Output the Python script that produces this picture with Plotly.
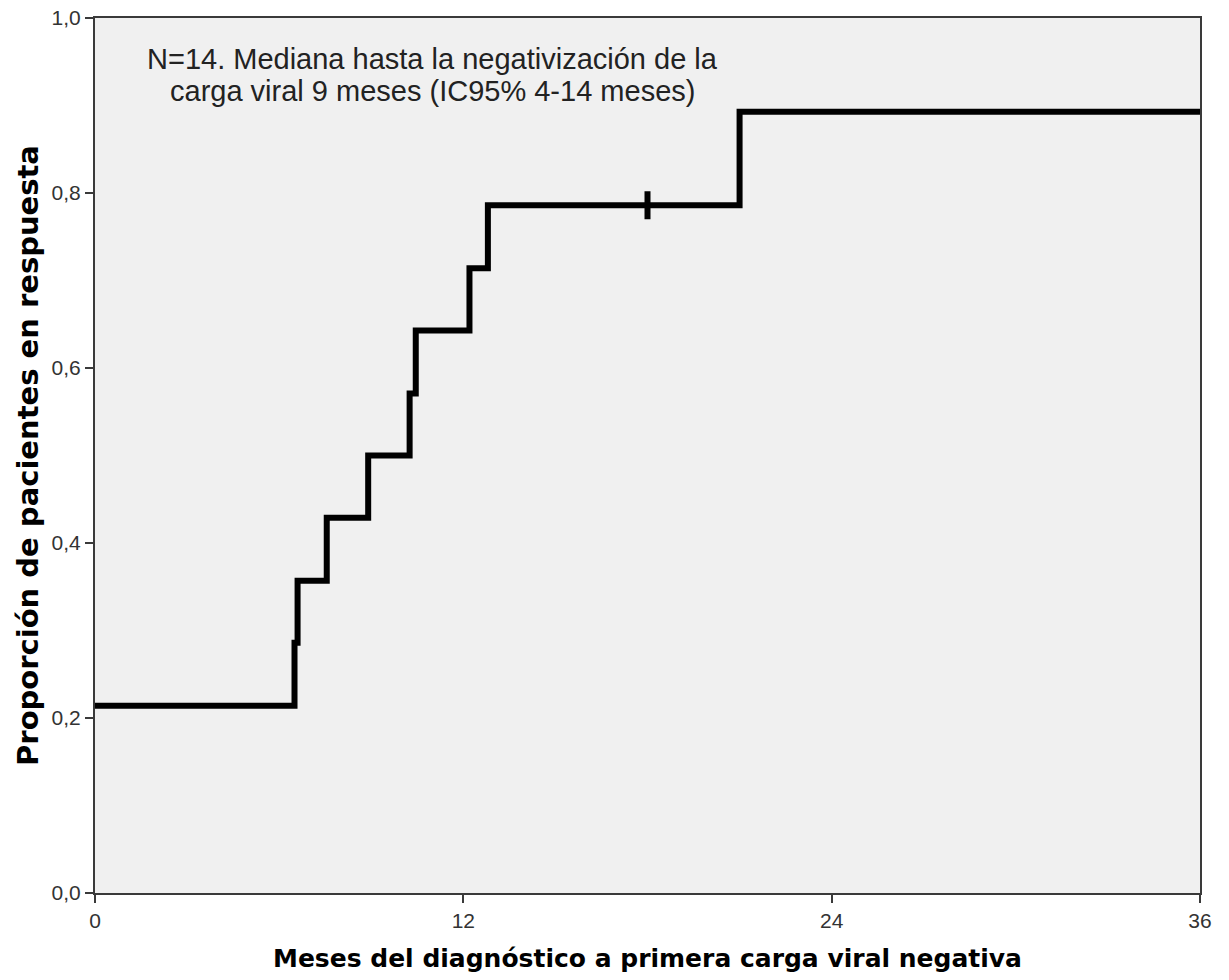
import plotly.graph_objects as go

# Kaplan-Meier cumulative response curve (step function)
months = [0, 6.5, 6.6, 7.55, 8.9, 10.25, 10.45, 12.2, 12.8, 21.0, 36]
proportion = [0.214, 0.286, 0.357, 0.429, 0.500, 0.571, 0.643, 0.714, 0.786, 0.893, 0.893]

censor_months = [18.0]
censor_prop = [0.786]

x_ticks = [0, 12, 24, 36]
y_ticks = [0.0, 0.2, 0.4, 0.6, 0.8, 1.0]

note_lines = ["N=14. Mediana hasta la negativización de la",
              "carga viral 9 meses (IC95% 4-14 meses)"]
note_y = [0.953, 0.916]

fig = go.Figure()
fig.add_trace(go.Scatter(
    x=months, y=proportion, mode="lines", line_shape="hv",
    line=dict(color="black", width=6), showlegend=False, hoverinfo="skip"))
fig.add_trace(go.Scatter(
    x=censor_months, y=censor_prop, mode="markers",
    marker=dict(symbol="line-ns", size=20, line=dict(color="black", width=6)),
    showlegend=False))

axis_common = dict(
    showgrid=False, zeroline=False, showline=True, linecolor="#3a3a3a",
    linewidth=2, mirror=True, ticks="outside", ticklen=8, tickwidth=2,
    tickcolor="#3a3a3a", automargin=False,
    tickfont=dict(family="Liberation Sans, Arial", size=21, color="#333"))

fig.update_layout(
    width=1229, height=980,
    margin=dict(l=95, r=29, t=18, b=87),
    paper_bgcolor="white", plot_bgcolor="#f0f0f0",
    separators=",.",
    xaxis=dict(range=[0, 36], tickvals=x_ticks, **axis_common,
               title=dict(text="<b>Meses del diagnóstico a primera carga viral negativa</b>",
                          font=dict(family="DejaVu Sans", size=25, color="black"),
                          standoff=18)),
    yaxis=dict(range=[0, 1.0], tickvals=y_ticks, tickformat=".1f", **axis_common,
               title=dict(text="<b>Proporción de pacientes en respuesta</b>",
                          font=dict(family="DejaVu Sans", size=29, color="black"),
                          standoff=4)),
    annotations=[dict(
        x=0.305, y=yy, xref="paper", yref="paper", xanchor="center", yanchor="middle",
        text=line, showarrow=False,
        font=dict(family="Liberation Sans, Arial", size=29, color="#222"))
        for line, yy in zip(note_lines, note_y)],
)

fig.write_html("out.html")
